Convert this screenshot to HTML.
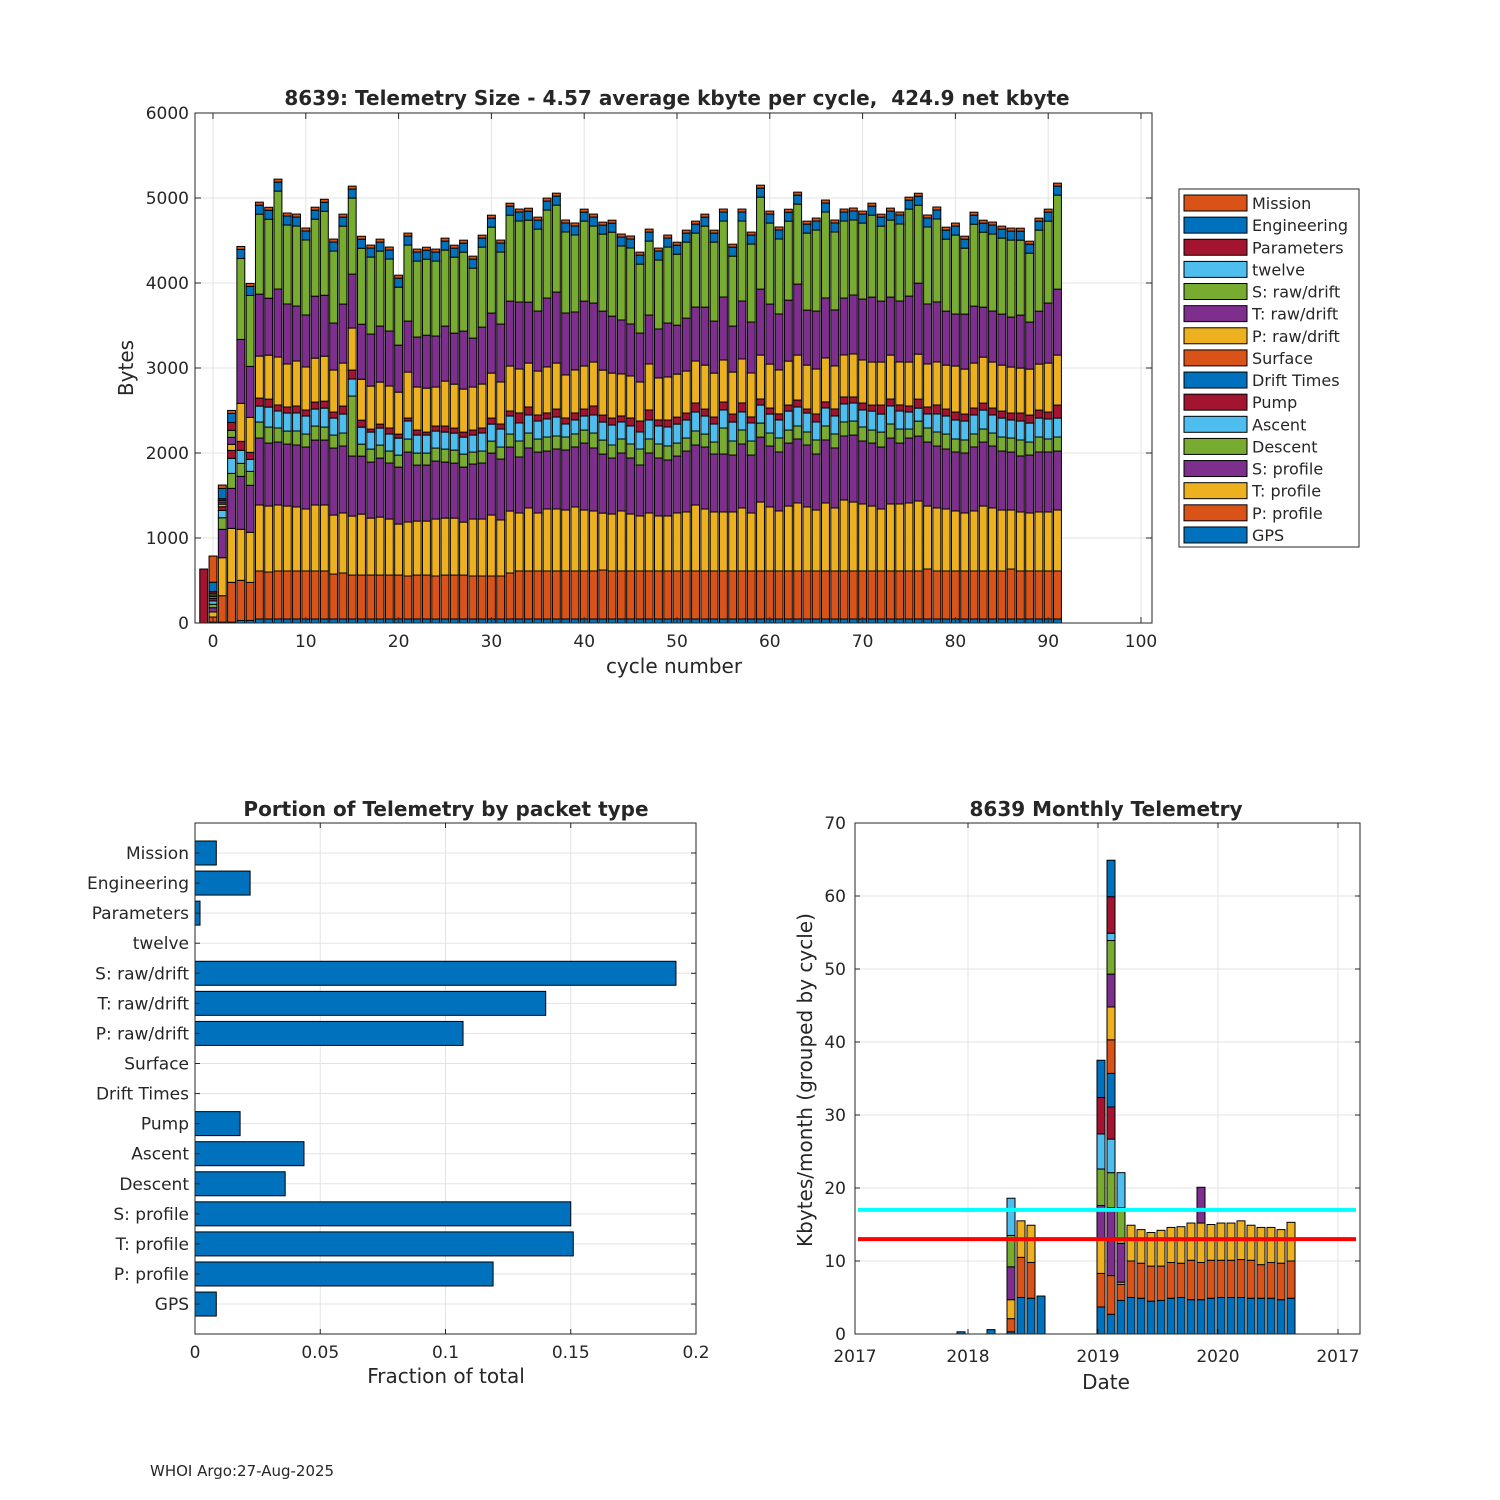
<!DOCTYPE html>
<html><head><meta charset="utf-8"><style>
html,body{margin:0;padding:0;background:#fff;}
svg{display:block;font-family:"DejaVu Sans","Liberation Sans",sans-serif;}
text{fill:#262626;white-space:pre;}
</style></head><body>
<svg id="fig" width="1500" height="1500" viewBox="0 0 1500 1500" xmlns="http://www.w3.org/2000/svg">
<rect x="0" y="0" width="1500" height="1500" fill="#fff"/>
<g id="topchart"></g>
<g id="bl"></g>
<g id="br"></g>
<text x="150" y="1476" font-size="15">WHOI Argo:27-Aug-2025</text>
</svg>
<script>
// ---------- TOP CHART DATA (cycles -1..91) ----------
const cycles = [-1,0,1,2,3,4,5,6,7,8,9,10,11,12,13,14,15,16,17,18,19,20,21,22,23,24,25,26,27,28,29,30,31,32,33,34,35,36,37,38,39,40,41,42,43,44,45,46,47,48,49,50,51,52,53,54,55,56,57,58,59,60,61,62,63,64,65,66,67,68,69,70,71,72,73,74,75,76,77,78,79,80,81,82,83,84,85,86,87,88,89,90,91];
const gpsBytes = [0,10,10,10,30,30,47,47,47,47,47,47,47,47,47,47,47,47,47,47,47,47,47,47,47,47,47,47,47,47,47,47,47,47,47,47,47,47,47,47,47,47,47,47,47,47,47,47,47,47,47,47,47,47,47,47,47,47,47,47,47,47,47,47,47,47,47,47,47,47,47,47,47,47,47,47,47,47,47,47,47,47,47,47,47,47,47,47,47,47,47,47,47];
const pProfile = [0,60,311,468,472,448,565,553,565,565,565,565,565,565,529,541,517,517,517,517,517,517,506,517,517,506,517,517,517,506,506,506,506,541,565,565,565,565,565,565,565,565,565,576,565,565,565,565,565,565,565,565,565,565,565,565,565,565,565,565,565,565,565,565,565,565,565,565,565,565,565,565,565,565,565,565,565,565,588,565,565,565,565,565,565,565,565,588,565,565,565,565,565];
const tProfile = [0,60,447,635,600,589,776,776,776,764,753,729,776,776,694,706,694,717,670,682,659,600,635,635,635,670,670,670,623,670,670,717,659,729,682,741,682,729,729,717,753,717,706,670,670,706,670,647,682,647,647,682,694,776,729,694,694,694,741,682,811,753,706,764,800,753,717,800,741,835,811,788,764,729,788,788,800,823,741,741,729,706,682,706,764,741,717,694,694,682,694,694,717];
const sProfile = [0,50,334,471,623,553,788,741,741,729,729,729,764,764,788,788,706,682,659,694,659,670,823,659,659,682,659,647,647,647,659,729,717,753,659,706,717,682,706,706,706,788,741,694,659,682,659,600,706,682,659,670,717,706,729,682,682,670,753,682,764,717,694,741,753,729,659,741,706,753,788,741,741,729,776,717,764,764,753,729,706,694,706,753,753,729,694,682,659,682,706,706,694];
const descent = [0,40,136,176,153,164,188,188,165,153,165,153,165,153,153,153,706,141,153,153,141,141,153,141,141,153,153,153,153,141,141,141,141,153,188,176,153,165,153,153,153,153,176,165,153,165,165,188,165,165,165,153,153,165,153,141,306,165,165,165,165,153,165,153,153,153,165,165,165,165,165,165,153,176,165,165,106,176,165,165,176,153,153,153,153,153,165,165,188,153,176,153,165];
const ascent = [0,40,87,177,153,141,188,235,200,212,212,212,200,223,200,223,200,200,200,200,200,200,212,212,212,200,200,200,200,200,212,200,212,212,212,212,212,212,223,153,165,165,212,212,235,200,212,200,223,212,223,223,212,223,212,212,212,223,212,212,212,223,212,223,223,223,212,212,212,212,212,200,223,212,212,212,200,153,165,212,212,223,223,223,223,212,223,212,223,223,223,235,223];
const pump = [0,30,43,94,106,83,94,94,71,71,82,71,82,82,71,94,106,82,35,47,71,47,35,59,35,59,71,59,59,59,59,71,59,59,118,94,71,71,94,71,82,82,106,82,82,71,94,129,118,71,82,82,82,106,82,82,94,94,106,71,71,71,71,71,82,47,94,71,82,82,71,82,71,106,82,71,71,106,82,106,82,94,82,82,82,82,82,82,94,94,94,82,153];
const pRaw = [0,20,30,71,447,411,494,517,564,506,529,506,517,529,494,506,494,482,506,494,494,494,541,506,517,459,529,517,506,506,517,529,494,529,517,517,517,541,541,506,506,506,517,529,529,494,494,459,541,494,506,506,494,494,517,517,494,494,517,517,517,517,517,517,529,517,529,517,506,494,506,506,506,506,517,506,517,529,506,506,517,541,529,529,541,541,541,541,529,541,541,576,588];
const tRaw = [0,20,25,82,752,600,729,670,800,706,647,612,729,717,553,694,635,647,612,659,647,553,600,588,623,600,647,600,682,576,670,706,682,764,788,717,706,811,835,729,682,764,694,694,670,635,612,576,576,576,635,576,623,635,682,612,741,541,682,600,776,706,659,717,835,647,682,706,659,670,694,717,764,717,682,717,776,835,706,706,635,612,647,670,588,600,600,588,623,553,623,706,776];
const sRaw = [0,20,20,82,953,835,941,929,1152,929,941,882,906,988,847,917,894,894,906,882,847,682,894,894,894,882,894,894,929,823,941,1011,847,1011,953,964,964,1035,1023,953,906,941,906,906,988,870,894,811,870,811,894,835,894,870,953,929,894,823,941,917,1082,953,882,929,941,906,953,1011,917,906,882,894,964,882,906,906,1023,917,906,976,847,929,776,964,882,906,894,906,882,811,953,964,1106];
const parameters = [635,20,20,94,0,0,0,0,0,0,0,0,0,0,0,0,0,0,0,0,0,0,0,0,0,0,0,0,0,0,0,0,0,0,0,0,0,0,0,0,0,0,0,0,0,0,0,0,0,0,0,0,0,0,0,0,0,0,0,0,0,0,0,0,0,0,0,0,0,0,0,0,0,0,0,0,0,0,0,0,0,0,0,0,0,0,0,0,0,0,0,0,0];
const engineering = [0,110,120,106,106,106,106,106,106,106,106,106,106,106,106,106,106,106,106,106,106,106,106,106,106,106,106,106,106,106,106,106,106,106,106,106,106,106,106,106,106,106,106,106,106,106,106,106,106,106,106,106,106,106,106,106,106,106,106,106,106,106,106,106,106,106,106,106,106,106,106,106,106,106,106,106,106,106,106,106,106,106,106,106,106,106,106,106,106,106,106,106,106];
const mission = [0,308,40,35,35,35,35,35,35,35,35,35,35,35,35,35,35,35,35,35,35,35,35,35,35,35,35,35,35,35,35,35,35,35,35,35,35,35,35,35,35,35,35,35,35,35,35,35,35,35,35,35,35,35,35,35,35,35,35,35,35,35,35,35,35,35,35,35,35,35,35,35,35,35,35,35,35,35,35,35,35,35,35,35,35,35,35,35,35,35,35,35,35];
const topXTicks = [0,10,20,30,40,50,60,70,80,90,100];
const topYTicks = [0,1000,2000,3000,4000,5000,6000];

// ---------- BOTTOM-LEFT DATA ----------
const packetNames = ["Mission","Engineering","Parameters","twelve","S: raw/drift","T: raw/drift","P: raw/drift","Surface","Drift Times","Pump","Ascent","Descent","S: profile","T: profile","P: profile","GPS"];
const packetFractions = [0.0085,0.022,0.002,0,0.192,0.140,0.107,0,0,0.018,0.0435,0.036,0.150,0.151,0.119,0.0085];
const fracTicks = [0,0.05,0.1,0.15,0.2];
const fracTickLabels = ["0","0.05","0.1","0.15","0.2"];

// ---------- BOTTOM-RIGHT DATA (months from Jan 2019) ----------
const monthOffsets = [-14,-11,-9,-8,-7,-6,0,1,2,3,4,5,6,7,8,9,10,11,12,13,14,15,16,17,18,19];
const mSeg1 = [0.3,0.6,0.3,5.0,4.9,5.2,3.7,2.7,4.6,5.0,4.9,4.5,4.6,4.9,5.0,4.7,4.7,4.9,5.0,5.0,5.0,4.9,4.9,4.9,4.7,4.9];
const mSeg2 = [0,0,1.8,5.5,4.9,0,4.6,5.3,2.2,5.0,4.8,4.8,4.7,4.9,4.7,5.4,5.1,5.2,5.1,5.1,5.2,5.2,4.6,4.9,5.0,5.1];
const mSeg3 = [0,0,2.6,5.0,5.1,0,4.7,0,0.3,4.9,4.6,4.6,4.9,4.8,5.0,5.1,5.4,4.9,5.1,5.1,5.3,4.8,5.1,4.8,4.6,5.3];
const mSeg4 = [0,0,4.5,0,0,0,4.6,9.3,5.3,0,0,0,0,0,0,0,4.9,0,0,0,0,0,0,0,0,0];
const mSeg5 = [0,0,4.3,0,0,0,5.0,4.8,4.9,0,0,0,0,0,0,0,0,0,0,0,0,0,0,0,0,0];
const mSeg6 = [0,0,5.1,0,0,0,4.8,4.6,4.8,0,0,0,0,0,0,0,0,0,0,0,0,0,0,0,0,0];
const mSeg7 = [0,0,0,0,0,0,5.0,4.4,0,0,0,0,0,0,0,0,0,0,0,0,0,0,0,0,0,0];
const mSeg8 = [0,0,0,0,0,0,5.1,4.6,0,0,0,0,0,0,0,0,0,0,0,0,0,0,0,0,0,0];
const mSeg9 = [0,0,0,0,0,0,0,4.6,0,0,0,0,0,0,0,0,0,0,0,0,0,0,0,0,0,0];
const mSeg10 = [0,0,0,0,0,0,0,4.5,0,0,0,0,0,0,0,0,0,0,0,0,0,0,0,0,0,0];
const mSeg11 = [0,0,0,0,0,0,0,4.5,0,0,0,0,0,0,0,0,0,0,0,0,0,0,0,0,0,0];
const mSeg12 = [0,0,0,0,0,0,0,4.6,0,0,0,0,0,0,0,0,0,0,0,0,0,0,0,0,0,0];
const mSeg13 = [0,0,0,0,0,0,0,1.0,0,0,0,0,0,0,0,0,0,0,0,0,0,0,0,0,0,0];
const mSeg14 = [0,0,0,0,0,0,0,5.0,0,0,0,0,0,0,0,0,0,0,0,0,0,0,0,0,0,0];
const mSeg15 = [0,0,0,0,0,0,0,5.0,0,0,0,0,0,0,0,0,0,0,0,0,0,0,0,0,0,0];
const monthlyMean = [17];
const monthlyMedian = [13];
const monthYTicks = [0,10,20,30,40,50,60,70];
const monthXTickVals = [-24.6,-13.3,-0.3,11.7,23.7];
const monthXTickLabels = ["2017","2018","2019","2020","2017"];

// ---------- helpers ----------
const NS = "http://www.w3.org/2000/svg";
function mk(tag, attrs, parent, txt){
  const el = document.createElementNS(NS, tag);
  for (const k in attrs) el.setAttribute(k, attrs[k]);
  if (txt !== undefined) el.textContent = txt;
  parent.appendChild(el);
  return el;
}
const C = {blue:"#0072BD",orange:"#D95319",yellow:"#EDB120",purple:"#7E2F8E",green:"#77AC30",lb:"#4DBEEE",red:"#A2142F"};
const GRID = "#e3e3e3", AX = "#262626";

// ================= TOP CHART =================
const topG = document.getElementById("topchart");
const tx = c => 213 + c * 9.28;
const ty = v => 623 - v * 0.085;
const TL=195, TR=1152, TT=113, TB=623;
topXTicks.forEach(t => {
  const g = mk("line",{x1:tx(t),x2:tx(t),y1:TT,y2:TB,stroke:GRID,"stroke-width":1},topG);
  
  
});
topYTicks.forEach(t => {
  const g = mk("line",{x1:TL,x2:TR,y1:ty(t),y2:ty(t),stroke:GRID,"stroke-width":1},topG);
  
  
});
const topSeries = [
  [gpsBytes,C.blue,"gps"],[pProfile,C.orange,"p-profile"],[tProfile,C.yellow,"t-profile"],[sProfile,C.purple,"s-profile"],
  [descent,C.green,"descent"],[ascent,C.lb,"ascent"],[pump,C.red,"pump"],
  [pRaw,C.yellow,"p-raw-drift"],[tRaw,C.purple,"t-raw-drift"],[sRaw,C.green,"s-raw-drift"],
  [parameters,C.red,"parameters"],[engineering,C.blue,"engineering"],[mission,C.orange,"mission"]
];
cycles.forEach((c,i) => {
  let base = 0;
  topSeries.forEach(s => {
    const v = s[0][i];
    if (v > 0) {
      const r = mk("rect",{x:tx(c)-3.95,y:ty(base+v),width:7.9,height:v*0.085,fill:s[1],stroke:"#000","stroke-width":1},topG);
      
      
    }
    base += v;
  });
});
mk("rect",{x:TL,y:TT,width:TR-TL,height:TB-TT,fill:"none",stroke:AX,"stroke-width":1},topG);
topXTicks.forEach(t => {
  mk("line",{x1:tx(t),x2:tx(t),y1:TB,y2:TB-6,stroke:AX},topG);
  mk("line",{x1:tx(t),x2:tx(t),y1:TT,y2:TT+6,stroke:AX},topG);
  const l = mk("text",{x:tx(t),y:647,"font-size":17,"text-anchor":"middle"},topG,String(t));
  
  
});
topYTicks.forEach(t => {
  mk("line",{x1:TL,x2:TL+6,y1:ty(t),y2:ty(t),stroke:AX},topG);
  mk("line",{x1:TR,x2:TR-6,y1:ty(t),y2:ty(t),stroke:AX},topG);
  const l = mk("text",{x:189,y:ty(t)+6,"font-size":17,"text-anchor":"end"},topG,String(t));
  
  
});
let lab;
lab = mk("text",{x:677,y:105,"font-size":20,"font-weight":"bold","text-anchor":"middle"},topG,"8639: Telemetry Size - 4.57 average kbyte per cycle,  424.9 net kbyte");


lab = mk("text",{x:674,y:673,"font-size":20,"text-anchor":"middle"},topG,"cycle number");


lab = mk("text",{x:133,y:368,"font-size":20,"text-anchor":"middle",transform:"rotate(-90 133 368)"},topG,"Bytes");


// legend
const leg = mk("g",{},topG);


mk("rect",{x:1179,y:189,width:180,height:358,fill:"#fff",stroke:AX,"stroke-width":1},leg);
const legColors = [C.orange,C.blue,C.red,C.lb,C.green,C.purple,C.yellow,C.orange,C.blue,C.red,C.lb,C.green,C.purple,C.yellow,C.orange,C.blue];
packetNames.forEach((n,i) => {
  const y = 203 + i*22.13;
  const sw = mk("rect",{x:1184,y:y-8,width:63,height:16,fill:legColors[i],stroke:"#000","stroke-width":1},leg);
  
  
  const t = mk("text",{x:1252,y:y+6,"font-size":16},leg,n);
  
  
});

// ================= BOTTOM LEFT =================
const bl = document.getElementById("bl");
const fx = f => 195 + f * 2505;
const cy = i => 853 + i * 30.07;
const BL=195, BR=696, BT=823, BB=1334;
fracTicks.forEach(t => {
  const g = mk("line",{x1:fx(t),x2:fx(t),y1:BT,y2:BB,stroke:GRID},bl);
  
  
});
packetNames.forEach((n,i) => {
  const g = mk("line",{x1:BL,x2:BR,y1:cy(i),y2:cy(i),stroke:GRID},bl);
  
  
});
packetFractions.forEach((f,i) => {
  if (f > 0) {
    const r = mk("rect",{x:fx(0),y:cy(i)-12,width:fx(f)-fx(0),height:24,fill:C.blue,stroke:"#000","stroke-width":1},bl);
    
    
  }
});
mk("rect",{x:BL,y:BT,width:BR-BL,height:BB-BT,fill:"none",stroke:AX},bl);
fracTicks.forEach((t,i) => {
  mk("line",{x1:fx(t),x2:fx(t),y1:BB,y2:BB-5,stroke:AX},bl);
  mk("line",{x1:fx(t),x2:fx(t),y1:BT,y2:BT+5,stroke:AX},bl);
  const l = mk("text",{x:fx(t),y:1358,"font-size":17,"text-anchor":"middle"},bl,fracTickLabels[i]);
  
  
});
packetNames.forEach((n,i) => {
  mk("line",{x1:BL,x2:BL+5,y1:cy(i),y2:cy(i),stroke:AX},bl);
  mk("line",{x1:BR,x2:BR-5,y1:cy(i),y2:cy(i),stroke:AX},bl);
  const l = mk("text",{x:189,y:cy(i)+6,"font-size":17,"text-anchor":"end"},bl,n);
  
  
});
lab = mk("text",{x:446,y:816,"font-size":20,"font-weight":"bold","text-anchor":"middle"},bl,"Portion of Telemetry by packet type");


lab = mk("text",{x:446,y:1383,"font-size":20,"text-anchor":"middle"},bl,"Fraction of total");



// ================= BOTTOM RIGHT =================
const br = document.getElementById("br");
const mx = k => 1101 + k * 10;
const my = v => 1334 - v * 7.3;
const RL=855, RR=1360, RT=823, RB=1334;
monthXTickVals.forEach(t => {
  const g = mk("line",{x1:mx(t),x2:mx(t),y1:RT,y2:RB,stroke:GRID},br);
  
  
});
monthYTicks.forEach(t => {
  const g = mk("line",{x1:RL,x2:RR,y1:my(t),y2:my(t),stroke:GRID},br);
  
  
});
const mSeries = [mSeg1,mSeg2,mSeg3,mSeg4,mSeg5,mSeg6,mSeg7,mSeg8,mSeg9,mSeg10,mSeg11,mSeg12,mSeg13,mSeg14,mSeg15];
const mColors = [C.blue,C.orange,C.yellow,C.purple,C.green,C.lb,C.red];
monthOffsets.forEach((k,i) => {
  let base = 0;
  mSeries.forEach((s,j) => {
    const v = s[i];
    if (v > 0) {
      const r = mk("rect",{x:mx(k)-4,y:my(base+v),width:8,height:v*7.3,fill:mColors[j%7],stroke:"#000","stroke-width":1},br);
      
      
    }
    base += v;
  });
});
lab = mk("line",{x1:858,x2:1356,y1:my(monthlyMean[0]),y2:my(monthlyMean[0]),stroke:"#00FFFF","stroke-width":4},br);


lab = mk("line",{x1:858,x2:1356,y1:my(monthlyMedian[0]),y2:my(monthlyMedian[0]),stroke:"#FF0000","stroke-width":4},br);


mk("rect",{x:RL,y:RT,width:RR-RL,height:RB-RT,fill:"none",stroke:AX},br);
monthXTickVals.forEach((t,i) => {
  mk("line",{x1:mx(t),x2:mx(t),y1:RB,y2:RB-5,stroke:AX},br);
  mk("line",{x1:mx(t),x2:mx(t),y1:RT,y2:RT+5,stroke:AX},br);
  const l = mk("text",{x:mx(t),y:1362,"font-size":17,"text-anchor":"middle"},br,monthXTickLabels[i]);
  
  
});
monthYTicks.forEach(t => {
  mk("line",{x1:RL,x2:RL+5,y1:my(t),y2:my(t),stroke:AX},br);
  mk("line",{x1:RR,x2:RR-5,y1:my(t),y2:my(t),stroke:AX},br);
  const l = mk("text",{x:846,y:my(t)+6,"font-size":17,"text-anchor":"end"},br,String(t));
  
  
});
lab = mk("text",{x:1106,y:816,"font-size":20,"font-weight":"bold","text-anchor":"middle"},br,"8639 Monthly Telemetry");


lab = mk("text",{x:1106,y:1389,"font-size":20,"text-anchor":"middle"},br,"Date");


lab = mk("text",{x:812,y:1080,"font-size":20,"text-anchor":"middle",transform:"rotate(-90 812 1080)"},br,"Kbytes/month (grouped by cycle)");


</script>
</body></html>
